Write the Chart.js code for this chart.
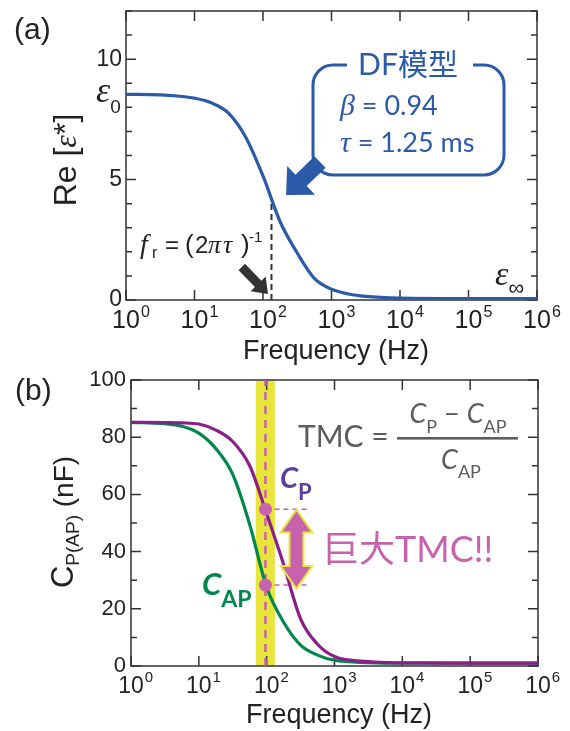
<!DOCTYPE html>
<html>
<head>
<meta charset="utf-8">
<title>DF model / TMC</title>
<script src="https://cdn.jsdelivr.net/npm/chart.js@4.4.0/dist/chart.umd.min.js"></script>
<style>
    html, body { margin: 0; padding: 0; background: #fff; }
    #wrap { position: relative; width: 570px; height: 731px; }
    #wrap canvas { position: absolute; left: 0; top: 0; }
</style>
</head>
<body>
<div id="wrap">
    <canvas id="chartA" width="570" height="731"></canvas>
    <canvas id="chartB" width="570" height="731"></canvas>
</div>
<script>
// ============================
// Data
// ============================

// (a) Re[eps*] vs frequency, DF model
const freqA = [1, 3.16, 5.62, 10, 17.8, 31.6, 56.2, 100, 178, 316, 562, 1000, 1778, 3162, 10000, 100000, 1000000];
const reEps = [8.54, 8.52, 8.47, 8.38, 8.18, 7.75, 6.75, 5.15, 3.25, 1.95, 0.9, 0.45, 0.25, 0.15, 0.08, 0.06, 0.06];
const frHz = 133;        // f_r = (2*pi*tau)^-1 marker
const frTop = 4.2;

// (b) C_P and C_AP vs frequency
const freqB = [1, 3.16, 5.62, 10, 17.8, 31.6, 56.2, 100, 178, 316, 562, 1000, 3162, 10000, 100000, 1000000];
const capP  = [85.2, 85.1, 85.0, 84.6, 82.5, 78.5, 70.0, 53.2, 35.5, 16.5, 7.6, 3.3, 1.5, 1.1, 1.0, 1.0];
const capAP = [85.2, 84.7, 83.8, 81.4, 76.0, 67.0, 49.5, 27.5, 15.3, 7.3, 3.8, 2.0, 1.2, 1.0, 1.0, 1.0];
const markHz = 96;             // highlighted frequency
const bandHz = [69, 132];      // yellow band
const markP = 54.8, markAP = 28.3;
const dashEndHz = 435;
const tmcArrowHz = 275;

// ticks
const xDecades = [1, 10, 100, 1000, 10000, 100000, 1000000];
const xTickExp = [0, 1, 2, 3, 4, 5, 6];
const yTicksA = [0, 5, 10];
const yMinorA = [0, 1, 2, 3, 4, 5, 6, 7, 8, 9, 10, 11, 12];
const yTicksB = [0, 20, 40, 60, 80, 100];
const yMinorB = [0, 10, 20, 30, 40, 50, 60, 70, 80, 90, 100];

// ============================
// Styles
// ============================
const BLUE = '#2a5aa8', PURPLE = '#8a1f88', GREEN = '#00874c', PINK = '#c862ac';
const YELLOW = '#e8e53a', INK = '#333', GRAY = '#5c5c5c', CP_COL = '#5a3e9c';
const SANS = '"Liberation Sans", Arial, sans-serif';
const LATO = 'Lato, "Noto Sans CJK JP", sans-serif';
const SERIF = '"Liberation Serif", "Times New Roman", serif';

const pts = (xs, ys) => xs.map((x, i) => ({ x, y: ys[i] }));

// rich text: parts = [text, font, dy, color]
function runs(ctx, x, y, parts, align) {
    let w = 0;
    parts.forEach(p => { ctx.font = p[1]; w += ctx.measureText(p[0]).width; });
    let cx = align === 'center' ? x - w / 2 : align === 'right' ? x - w : x;
    ctx.textAlign = 'left';
    ctx.textBaseline = 'alphabetic';
    parts.forEach(p => {
        ctx.font = p[1];
        if (p[3]) ctx.fillStyle = p[3];
        ctx.fillText(p[0], cx, y + (p[2] || 0));
        cx += ctx.measureText(p[0]).width;
    });
}

function rotRuns(ctx, bx, cy, parts) {
    ctx.save();
    ctx.translate(bx, cy);
    ctx.rotate(-Math.PI / 2);
    runs(ctx, 0, 0, parts, 'center');
    ctx.restore();
}

function arrowPath(ctx, x0, y0, x1, y1, sw, hw, hl) {
    const dx = x1 - x0, dy = y1 - y0, len = Math.hypot(dx, dy);
    const ux = dx / len, uy = dy / len, nx = -uy, ny = ux;
    const bx = x1 - ux * hl, by = y1 - uy * hl;
    ctx.beginPath();
    ctx.moveTo(x0 + nx * sw / 2, y0 + ny * sw / 2);
    ctx.lineTo(bx + nx * sw / 2, by + ny * sw / 2);
    ctx.lineTo(bx + nx * hw / 2, by + ny * hw / 2);
    ctx.lineTo(x1, y1);
    ctx.lineTo(bx - nx * hw / 2, by - ny * hw / 2);
    ctx.lineTo(bx - nx * sw / 2, by - ny * sw / 2);
    ctx.lineTo(x0 - nx * sw / 2, y0 - ny * sw / 2);
    ctx.closePath();
}

// box with inward ticks on all four sides
function drawFrame(chart, yMajor, yMinor) {
    const { ctx, chartArea: a, scales: { x, y } } = chart;
    ctx.save();
    ctx.strokeStyle = INK;
    ctx.lineWidth = 1.5;
    ctx.strokeRect(a.left, a.top, a.right - a.left, a.bottom - a.top);
    ctx.beginPath();
    xDecades.forEach(v => {
        const px = x.getPixelForValue(v);
        ctx.moveTo(px, a.bottom); ctx.lineTo(px, a.bottom - 10);
        ctx.moveTo(px, a.top); ctx.lineTo(px, a.top + 10);
    });
    yMinor.forEach(v => {
        const len = yMajor.includes(v) ? 10 : 6;
        const py = y.getPixelForValue(v);
        ctx.moveTo(a.left, py); ctx.lineTo(a.left + len, py);
        ctx.moveTo(a.right, py); ctx.lineTo(a.right - len, py);
    });
    ctx.stroke();
    ctx.restore();
}

function drawTickLabels(chart, yTicks, yFont, yRight, xFont, supFont, xBase) {
    const { ctx, scales: { x, y } } = chart;
    ctx.save();
    ctx.fillStyle = '#222';
    ctx.font = yFont;
    ctx.textAlign = 'right';
    ctx.textBaseline = 'middle';
    yTicks.forEach(v => ctx.fillText(String(v), yRight, y.getPixelForValue(v)));
    ctx.textAlign = 'left';
    ctx.textBaseline = 'alphabetic';
    xDecades.forEach((v, i) => {
        const px = x.getPixelForValue(v);
        ctx.font = xFont;
        const w = ctx.measureText('10').width;
        ctx.fillText('10', px - w / 2, xBase);
        ctx.font = supFont;
        ctx.fillText(String(xTickExp[i]), px + w / 2 + 1, xBase - 11);
    });
    ctx.restore();
}

function baseOptions(padding, yMax) {
    return {
        responsive: false,
        animation: false,
        events: [],
        layout: { padding },
        plugins: { legend: { display: false }, tooltip: { enabled: false } },
        scales: {
            x: { type: 'logarithmic', min: 1, max: 1e6, display: false },
            y: { type: 'linear', min: 0, max: yMax, display: false }
        }
    };
}

// ============================
// Panel (a)
// ============================
const panelA = {
    id: 'panelA',
    beforeDatasetsDraw(chart) {
        drawFrame(chart, yTicksA, yMinorA);
    },
    afterDraw(chart) {
        const { ctx, scales: { x, y } } = chart;
        ctx.save();
        drawTickLabels(chart, yTicksA, '23px ' + SANS, 122, '25px ' + SANS, '16px ' + SANS, 328);

        ctx.fillStyle = '#222';
        ctx.font = '30px ' + SANS;
        ctx.fillText('(a)', 14, 39);
        runs(ctx, 336, 359, [['Frequency (Hz)', '27px ' + SANS]], 'center');
        rotRuns(ctx, 76, 160, [
            ['Re [', '32px ' + SANS], ['ε', 'italic 32px ' + SERIF], ['*', '32px ' + SANS], [']', '32px ' + SANS]
        ]);

        // eps_0 / eps_inf
        runs(ctx, 96, 102, [['ε', 'italic 36px ' + SERIF], ['0', '19px ' + SANS, 11]]);
        runs(ctx, 495, 285, [['ε', 'italic 34px ' + SERIF], ['∞', '22px ' + SANS, 10]]);

        // f_r = (2 pi tau)^-1
        const fr = [
            ['f', 'italic 28px ' + SERIF, 140, 0], ['r', '16px ' + SANS, 152, 5],
            ['=', '24px ' + SANS, 165, 0], ['(', '26px ' + SANS, 185, 0], ['2', '24px ' + SANS, 195, 0],
            ['π', 'italic 26px ' + SERIF, 208, 0], ['τ', 'italic 26px ' + SERIF, 223, 0],
            [')', '26px ' + SANS, 241, 0], ['-1', '15px ' + SANS, 249, -11]
        ];
        fr.forEach(p => { ctx.font = p[1]; ctx.fillText(p[0], p[2], 253 + p[3]); });

        // dark arrow towards f_r
        ctx.fillStyle = INK;
        arrowPath(ctx, x.getPixelForValue(49), y.getPixelForValue(1.37),
            x.getPixelForValue(118), y.getPixelForValue(0.25), 9, 21, 14);
        ctx.fill();

        // callout box
        ctx.strokeStyle = BLUE;
        ctx.lineWidth = 3;
        const L = 313, R = 504, T = 65, B = 175, r = 20;
        ctx.beginPath();
        ctx.moveTo(347, T);
        ctx.arcTo(L, T, L, B, r);
        ctx.arcTo(L, B, R, B, r);
        ctx.arcTo(R, B, R, T, r);
        ctx.arcTo(R, T, L, T, r);
        ctx.lineTo(473, T);
        ctx.stroke();

        ctx.fillStyle = BLUE;
        runs(ctx, 408, 75, [['DF模型', '30px ' + LATO]], 'center');
        runs(ctx, 340, 115, [['β', 'italic 30px ' + SERIF], [' = 0.94', '27px ' + LATO]]);
        runs(ctx, 340, 152, [['τ', 'italic 30px ' + SERIF], [' = 1.25 ms', '27px ' + LATO]]);

        // blue arrow from box to curve
        arrowPath(ctx, x.getPixelForValue(680), y.getPixelForValue(5.73),
            x.getPixelForValue(217), y.getPixelForValue(4.36), 16, 40, 21);
        ctx.fill();
        ctx.restore();
    }
};

new Chart(document.getElementById('chartA'), {
    type: 'line',
    data: {
        datasets: [
            {
                data: pts(freqA, reEps),
                borderColor: BLUE, borderWidth: 3.2, pointRadius: 0,
                cubicInterpolationMode: 'monotone', order: 1
            },
            {
                data: [{ x: frHz, y: 0 }, { x: frHz, y: frTop }],
                borderColor: INK, borderWidth: 2, borderDash: [6, 4], pointRadius: 0, order: 2
            }
        ]
    },
    options: baseOptions({ left: 126, right: 33, top: 11, bottom: 431 }, 12),
    plugins: [panelA]
});

// ============================
// Panel (b)
// ============================
const panelB = {
    id: 'panelB',
    beforeDatasetsDraw(chart) {
        const { ctx, chartArea: a, scales: { x } } = chart;
        ctx.save();
        ctx.fillStyle = YELLOW;
        const x0 = x.getPixelForValue(bandHz[0]), x1 = x.getPixelForValue(bandHz[1]);
        ctx.fillRect(x0, a.top + 1, x1 - x0, a.bottom - a.top - 1);
        ctx.restore();
        drawFrame(chart, yTicksB, yMinorB);
    },
    afterDraw(chart) {
        const { ctx, scales: { x, y } } = chart;
        ctx.save();
        drawTickLabels(chart, yTicksB, '22px ' + SANS, 126, '23px ' + SANS, '15px ' + SANS, 693);

        ctx.fillStyle = '#222';
        ctx.font = '30px ' + SANS;
        ctx.fillText('(b)', 15, 400);
        runs(ctx, 339, 723, [['Frequency (Hz)', '27px ' + SANS]], 'center');
        rotRuns(ctx, 73, 522, [
            ['C', '31px ' + SANS], ['P(AP)', '19px ' + SANS, 6], [' (nF)', '28px ' + SANS]
        ]);

        // TMC formula
        ctx.fillStyle = GRAY;
        runs(ctx, 298, 447, [['TMC =', '30px ' + LATO]]);
        ctx.fillRect(397, 437, 121, 2.6);
        runs(ctx, 458, 423, [
            ['C', 'italic 27px ' + LATO], ['P', '18px ' + LATO, 10], [' − ', '27px ' + LATO],
            ['C', 'italic 27px ' + LATO], ['AP', '18px ' + LATO, 10]
        ], 'center');
        runs(ctx, 461, 469, [['C', 'italic 27px ' + LATO], ['AP', '18px ' + LATO, 9]], 'center');

        // curve labels
        ctx.fillStyle = CP_COL;
        runs(ctx, 280, 488, [['C', 'bold italic 29px ' + LATO], ['P', 'bold 22px ' + LATO, 12]]);
        ctx.fillStyle = GREEN;
        runs(ctx, 202, 595, [['C', 'bold italic 31px ' + LATO], ['AP', 'bold 23px ' + LATO, 12]]);

        // double arrow
        const cx = x.getPixelForValue(tmcArrowHz);
        const yT = y.getPixelForValue(54.0), yB = y.getPixelForValue(27.6);
        const hw = 14, sw = 6, hl = 20;
        ctx.beginPath();
        ctx.moveTo(cx, yT);
        ctx.lineTo(cx + hw, yT + hl); ctx.lineTo(cx + sw, yT + hl);
        ctx.lineTo(cx + sw, yB - hl); ctx.lineTo(cx + hw, yB - hl);
        ctx.lineTo(cx, yB);
        ctx.lineTo(cx - hw, yB - hl); ctx.lineTo(cx - sw, yB - hl);
        ctx.lineTo(cx - sw, yT + hl); ctx.lineTo(cx - hw, yT + hl);
        ctx.closePath();
        ctx.strokeStyle = YELLOW;
        ctx.lineWidth = 4;
        ctx.lineJoin = 'miter';
        ctx.stroke();
        ctx.fillStyle = PINK;
        ctx.fill();

        runs(ctx, 323, 562, [['巨大TMC!!', '36px ' + LATO]]);
        ctx.restore();
    }
};

new Chart(document.getElementById('chartB'), {
    type: 'line',
    data: {
        datasets: [
            {
                data: [{ x: markHz, y: markP }, { x: markHz, y: markAP }],
                showLine: false, pointRadius: 6.5, pointBackgroundColor: PINK,
                pointBorderWidth: 0, order: 0
            },
            {
                data: pts(freqB, capP),
                borderColor: PURPLE, borderWidth: 3.2, pointRadius: 0,
                cubicInterpolationMode: 'monotone', order: 1
            },
            {
                data: pts(freqB, capAP),
                borderColor: GREEN, borderWidth: 3.2, pointRadius: 0,
                cubicInterpolationMode: 'monotone', order: 1
            },
            {
                data: [{ x: markHz, y: 0 }, { x: markHz, y: 100 }],
                borderColor: PINK, borderWidth: 2.5, borderDash: [8, 6], pointRadius: 0, order: 3
            },
            {
                data: [{ x: markHz, y: markP }, { x: dashEndHz, y: markP }],
                borderColor: PINK, borderWidth: 1.5, borderDash: [5, 4], pointRadius: 0, order: 2
            },
            {
                data: [{ x: markHz, y: markAP }, { x: dashEndHz, y: markAP }],
                borderColor: PINK, borderWidth: 1.5, borderDash: [5, 4], pointRadius: 0, order: 2
            }
        ]
    },
    options: baseOptions({ left: 131, right: 32, top: 380, bottom: 65 }, 100),
    plugins: [panelB]
});
</script>
</body>
</html>
